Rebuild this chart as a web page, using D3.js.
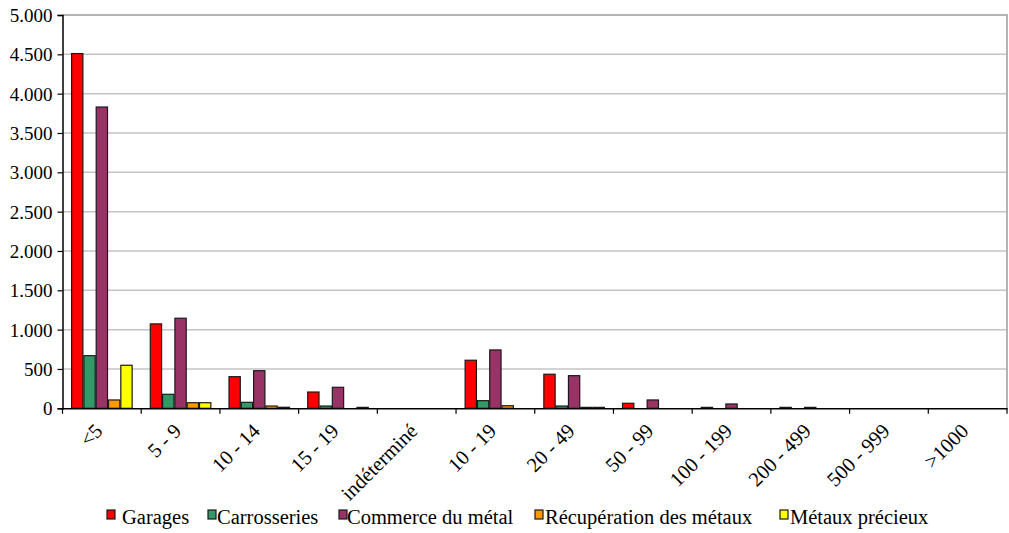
<!DOCTYPE html>
<html><head><meta charset="utf-8">
<script src="https://cdn.jsdelivr.net/npm/d3@7"></script>
<style>
html,body{margin:0;padding:0;background:#fff;}
svg text{font-family:"Liberation Serif","DejaVu Serif",serif;fill:#000;}
</style></head>
<body>
<svg id="chart" width="1009" height="533"></svg>
<script>
const categories = ["<5","5 - 9","10 - 14","15 - 19","indéterminé","10 - 19","20 - 49","50 - 99","100 - 199","200 - 499","500 - 999",">1000"];
const seriesNames = ["Garages","Carrosseries","Commerce du métal","Récupération des métaux","Métaux précieux"];
const garages       = [4510,1073,402,207,0,611,433,64,12,12,0,0];
const carrosseries  = [669,178,76,29,0,97,29,0,0,0,0,0];
const commerce      = [3830,1145,478,267,0,742,415,106,55,12,0,0];
const recuperation  = [106,71,29,0,0,33,12,0,0,0,0,0];
const precieux      = [547,71,13,12,0,0,12,0,0,0,0,0];
const yTicks = [0,500,1000,1500,2000,2500,3000,3500,4000,4500,5000];
const colors = ["#ff0000","#339966","#993366","#ff9900","#ffff00"];

const seriesValues = [garages,carrosseries,commerce,recuperation,precieux];
const svg = d3.select("#chart");
const pLeft = 62.5, pRight = 1007, pTop = 15, pBottom = 408.3;

const x0 = d3.scaleBand().domain(categories).range([pLeft,pRight]).paddingInner(0).paddingOuter(0);
const bw = x0.bandwidth();
const x1 = d3.scaleBand().domain(seriesNames).range([bw*0.109, bw*0.891]).padding(0);
const y = d3.scaleLinear().domain([0,5000]).range([pBottom,pTop]);

// gridlines
svg.append("g").selectAll("line").data(yTicks.filter(d=>d>0)).join("line")
  .attr("x1",pLeft).attr("x2",pRight)
  .attr("y1",d=>y(d)).attr("y2",d=>y(d))
  .attr("stroke",d=>d===5000?"#b4b4b4":"#c4c4c4").attr("stroke-width",d=>d===5000?2:1.5);
// right border
svg.append("line").attr("x1",pRight).attr("x2",pRight).attr("y1",pTop-1).attr("y2",pBottom)
  .attr("stroke","#b4b4b4").attr("stroke-width",2);

// bars
const groups = svg.append("g").selectAll("g").data(categories).join("g")
  .attr("transform",c=>`translate(${x0(c)},0)`);
groups.selectAll("rect").data((c,i)=>seriesNames.map((s,j)=>({s,j,v:seriesValues[j][i]})).filter(d=>d.v>0))
  .join("rect")
  .attr("x",d=>x1(d.s)+0.5).attr("width",x1.bandwidth()-1)
  .attr("y",d=>y(d.v)).attr("height",d=>pBottom-y(d.v))
  .attr("fill",d=>colors[d.j]).attr("stroke","#1a1a1a").attr("stroke-width",1.2);

// y axis
const yAxis = d3.axisLeft(y).tickValues(yTicks).tickSize(5).tickPadding(5)
  .tickFormat(d=>d3.format(",")(d).replace(/,/g,"."));
const ya = svg.append("g").attr("transform",`translate(${pLeft},0)`).call(yAxis);
ya.select(".domain").attr("stroke","#000").attr("stroke-width",1.5);
ya.selectAll(".tick line").attr("stroke","#000").attr("stroke-width",1.2);
ya.selectAll("text").attr("font-size","19px").attr("dy","0.34em");

// x axis
const xa = svg.append("g").attr("transform",`translate(0,${pBottom})`)
  .call(d3.axisBottom(x0).tickSize(0).tickFormat(""));
xa.select(".domain").attr("stroke","#000").attr("stroke-width",1.5);
xa.selectAll(".tick").remove();
const bounds = categories.map(c=>x0(c)).concat([pRight]);
svg.append("g").selectAll("line").data(bounds).join("line")
  .attr("x1",d=>d).attr("x2",d=>d).attr("y1",pBottom).attr("y2",pBottom+5.5)
  .attr("stroke","#000").attr("stroke-width",1.2);
svg.append("g").selectAll("text").data(categories).join("text")
  .attr("transform",c=>`translate(${x0(c)+bw/2+2},${pBottom+24}) rotate(-45)`)
  .attr("text-anchor","end").attr("font-size","20.5px")
  .text(c=>c);

// legend
const legendX = [107,208,339,535,780];
const textX = [122,217,347,545,790];
const lg = svg.append("g");
seriesNames.forEach((s,j)=>{
  lg.append("rect").attr("x",legendX[j]).attr("y",510).attr("width",8).attr("height",9)
    .attr("fill",colors[j]).attr("stroke","#1a1a1a").attr("stroke-width",1.2);
  lg.append("text").attr("x",textX[j]).attr("y",524).attr("font-size","20.5px").text(s);
});
</script>
</body></html>
